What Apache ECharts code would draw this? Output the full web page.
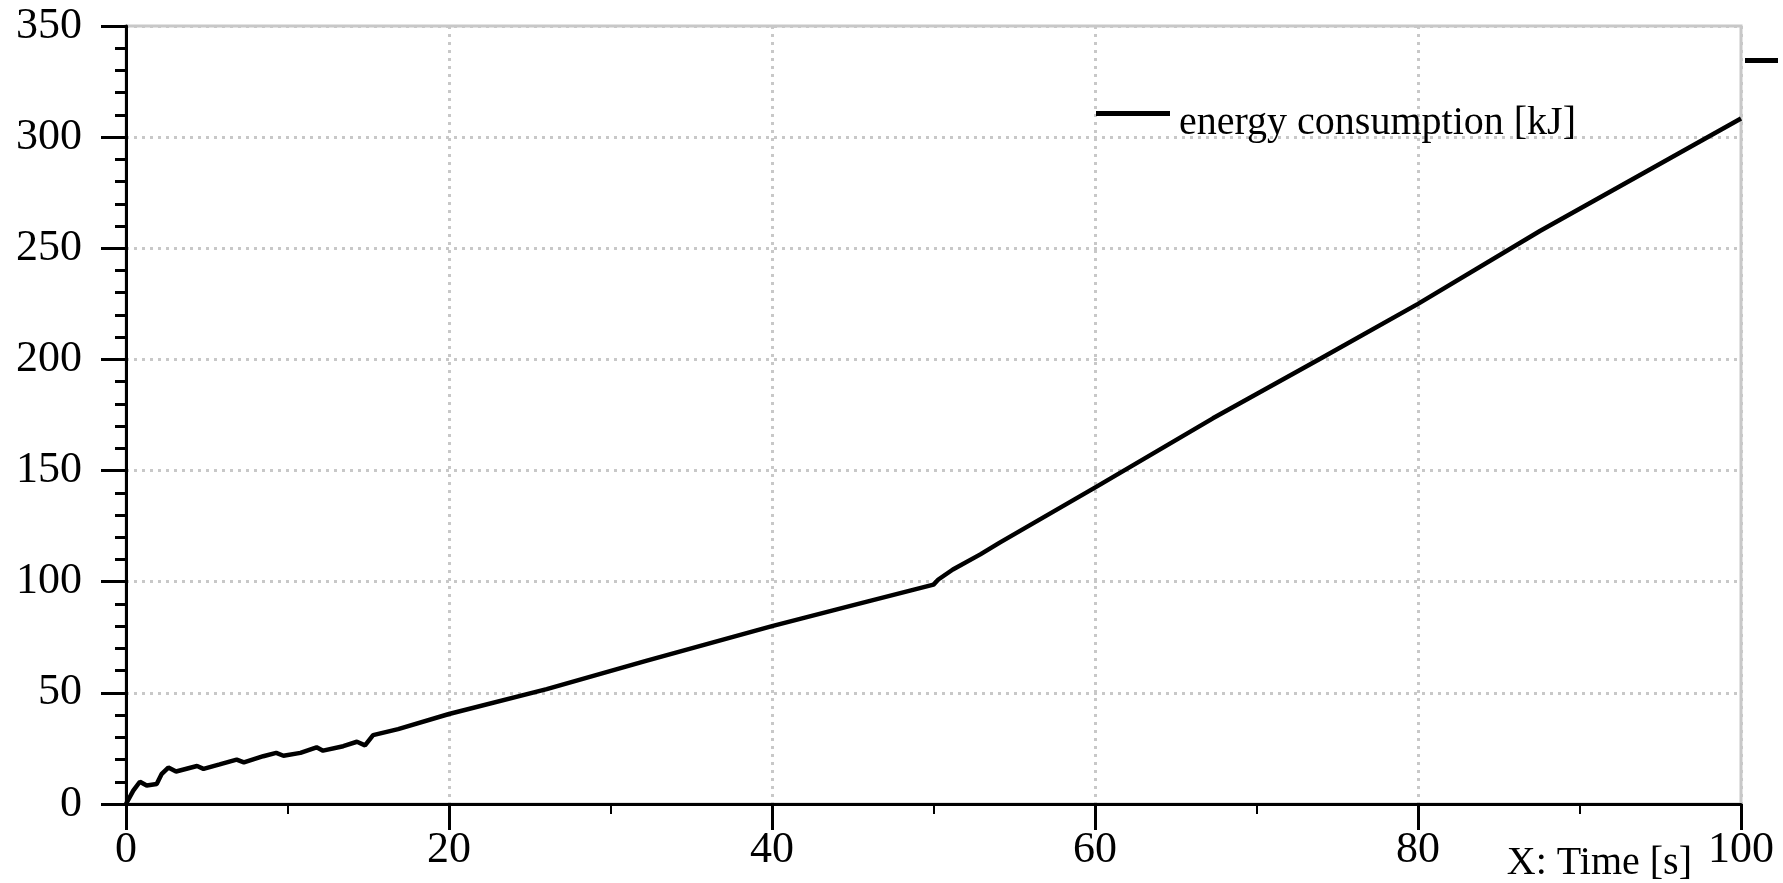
<!DOCTYPE html>
<html>
<head>
<meta charset="utf-8">
<script src="https://cdn.jsdelivr.net/npm/echarts@6/dist/echarts.min.js"></script>
<style>
html,body{margin:0;padding:0;background:#fff;}
#c{width:1783px;height:883px;}
</style>
</head>
<body>
<div id="c"></div>
<script>
var seriesName = 'energy consumption [kJ]';
var xName = 'X: Time [s]';
var time = [0, 0.45, 0.86, 1.28, 1.9, 2.2, 2.62, 3.1, 4.4, 4.8, 5.8, 6.85, 7.3, 8.5, 9.3, 9.75, 10.8, 11.8, 12.2, 13.45, 14.3, 14.8, 15.3, 16.85, 20, 26.05, 32.2, 40, 44.8, 50, 50.3, 51.2, 52.9, 54.1, 60.1, 67.3, 74, 80, 87.55, 93.75, 100];
var energy = [0, 6, 10, 8.3, 9, 13.4, 16.4, 14.6, 17.1, 15.8, 17.8, 20, 18.7, 21.5, 23, 21.7, 23, 25.5, 24, 26, 28, 26.4, 31, 33.7, 40.5, 51.7, 64.4, 80, 89, 98.7, 101, 105.5, 112.3, 117.6, 142.8, 173.5, 200.5, 225, 257.8, 283, 308.4];
var xTicks = [0, 20, 40, 60, 80, 100];
var yTicks = [0, 50, 100, 150, 200, 250, 300, 350];

var FONT = 'Liberation Serif';
var data = time.map(function (t, i) { return [t, energy[i]]; });
var chart = echarts.init(document.getElementById('c'), null, {renderer: 'canvas'});
var gridStyle = {show: true, lineStyle: {color: '#c8c8c8', width: 3, type: [3, 5]}};
chart.setOption({
  animation: false,
  backgroundColor: '#ffffff',
  grid: {left: 126, right: 42, top: 26, bottom: 76, show: true, borderColor: '#c8c8c8', borderWidth: 3, backgroundColor: 'transparent'},
  legend: {
    left: 1091, top: 98,
    icon: 'rect', itemWidth: 74, itemHeight: 5,
    data: [seriesName],
    formatter: function (name) { return '{t|' + name + '}'; },
    textStyle: {fontFamily: FONT, fontSize: 40, color: '#000',
      rich: {t: {fontFamily: FONT, fontSize: 40, color: '#000', padding: [19, 0, 0, 4]}}}
  },
  xAxis: {
    type: 'value', min: xTicks[0], max: xTicks[xTicks.length - 1], interval: xTicks[1] - xTicks[0],
    name: xName, nameLocation: 'end', nameGap: -49,
    nameTextStyle: {fontFamily: FONT, fontSize: 40, color: '#000', align: 'right', verticalAlign: 'top', padding: [39, 0, 0, 0]},
    axisLine: {show: true, onZero: false, lineStyle: {color: '#000', width: 3}},
    axisTick: {show: true, inside: false, length: 26, lineStyle: {color: '#000', width: 3}},
    minorTick: {show: true, splitNumber: 2, length: 10, lineStyle: {color: '#000', width: 2}},
    axisLabel: {fontFamily: FONT, fontSize: 44, color: '#000', margin: 24,
      formatter: function (v) { return xTicks.indexOf(v) >= 0 ? String(v) : ''; }},
    splitLine: gridStyle
  },
  yAxis: {
    type: 'value', min: yTicks[0], max: yTicks[yTicks.length - 1], interval: yTicks[1] - yTicks[0],
    axisLine: {show: true, onZero: false, lineStyle: {color: '#000', width: 3}},
    axisTick: {show: true, inside: false, length: 25, lineStyle: {color: '#000', width: 3}},
    minorTick: {show: true, splitNumber: 5, length: 11, lineStyle: {color: '#000', width: 3}},
    axisLabel: {fontFamily: FONT, fontSize: 44, color: '#000', margin: 44,
      formatter: function (v) { return yTicks.indexOf(v) >= 0 ? String(v) : ''; }},
    splitLine: gridStyle
  },
  graphic: [
    {type: 'rect', shape: {x: 1745, y: 58, width: 33, height: 5}, style: {fill: '#000'}, silent: true}
  ],
  series: [{
    name: seriesName, type: 'line', data: data, symbol: 'none', smooth: false,
    lineStyle: {color: '#000', width: 4.5}, itemStyle: {color: '#000'}, z: 3
  }]
});
</script>
</body>
</html>
